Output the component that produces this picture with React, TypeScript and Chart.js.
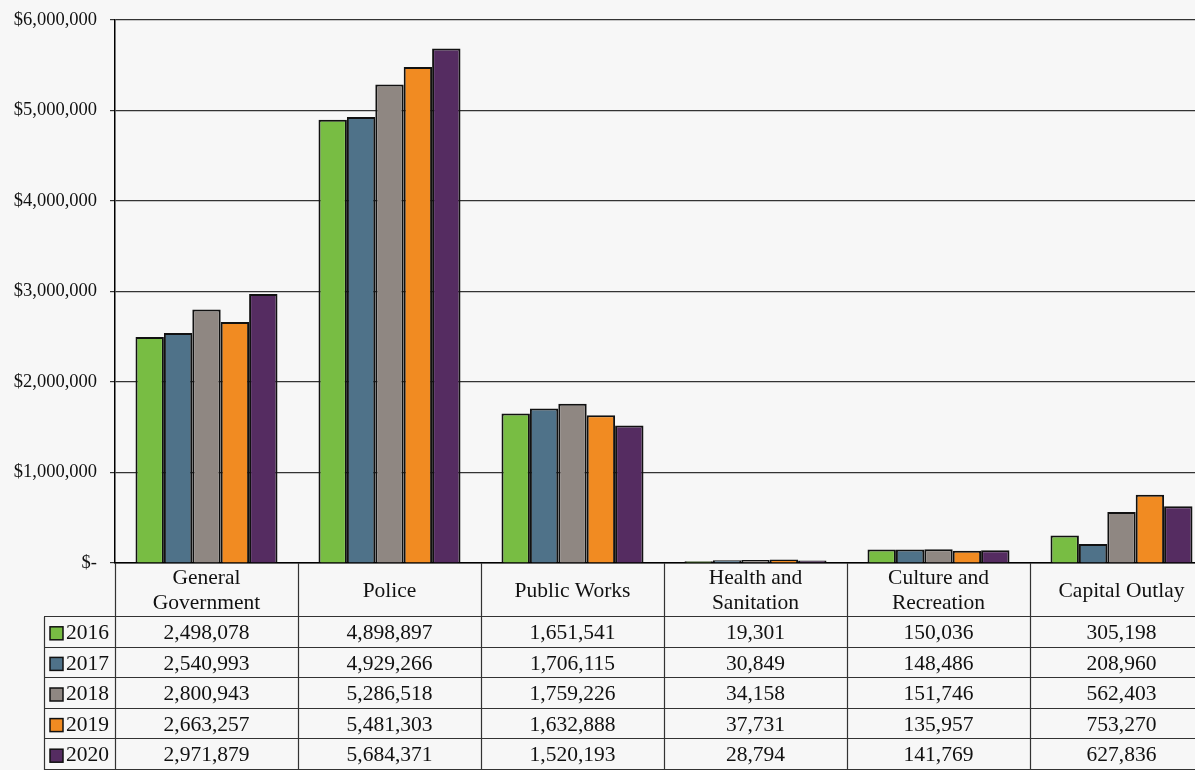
import React, { useEffect, useRef } from "react";
import { Chart, registerables } from "chart.js";

Chart.register(...registerables);

const categories: string[][] = [
  ["General", "Government"],
  ["Police"],
  ["Public Works"],
  ["Health and", "Sanitation"],
  ["Culture and", "Recreation"],
  ["Capital Outlay"],
];
const years = ["2016", "2017", "2018", "2019", "2020"];
const colors = ["#78bd43", "#4f7289", "#8f8782", "#f18b22", "#552c61"];

const v2016 = [2498078, 4898897, 1651541, 19301, 150036, 305198];
const v2017 = [2540993, 4929266, 1706115, 30849, 148486, 208960];
const v2018 = [2800943, 5286518, 1759226, 34158, 151746, 562403];
const v2019 = [2663257, 5481303, 1632888, 37731, 135957, 753270];
const v2020 = [2971879, 5684371, 1520193, 28794, 141769, 627836];
const seriesValues = [v2016, v2017, v2018, v2019, v2020];

const yMin = 0;
const yMax = 6000000;
const yStep = 1000000;

const FONT = '"Liberation Serif", "Times New Roman", serif';
const TABLE_FONT_SIZE = 21.5;
const HEADER_H = 54;
const ROW_H = 30.6;
const TABLE_LEFT = 44;
const LINE_COLOR = "#333333";
const TEXT_COLOR = "#111111";

const fmt = (n: number) => n.toLocaleString("en-US");

const tablePlugin = {
  id: "dataTable",
  afterDraw(chart: any) {
    const { ctx, chartArea } = chart;
    const x = chart.scales.x;
    const n = categories.length;
    const catW = x.getPixelForValue(1) - x.getPixelForValue(0);
    const top = chartArea.bottom;
    const rowsTop = top + HEADER_H;
    const bottom = rowsTop + ROW_H * years.length;
    const left = chartArea.left;
    ctx.save();
    ctx.strokeStyle = LINE_COLOR;
    ctx.lineWidth = 1.2;
    ctx.beginPath();
    ctx.moveTo(TABLE_LEFT + 0.5, rowsTop);
    ctx.lineTo(TABLE_LEFT + 0.5, bottom);
    ctx.moveTo(Math.round(left) + 0.5, top);
    ctx.lineTo(Math.round(left) + 0.5, bottom);
    for (let i = 0; i < n; i++) {
      const bx = Math.round(x.getPixelForValue(i) + catW / 2) + 0.5;
      ctx.moveTo(bx, top);
      ctx.lineTo(bx, bottom);
    }
    for (let r = 0; r <= years.length; r++) {
      const yy = Math.round(rowsTop + r * ROW_H) - 0.5;
      ctx.moveTo(TABLE_LEFT, yy);
      ctx.lineTo(chartArea.right, yy);
    }
    ctx.stroke();

    ctx.fillStyle = TEXT_COLOR;
    ctx.font = `${TABLE_FONT_SIZE}px ${FONT}`;
    ctx.textBaseline = "middle";
    ctx.textAlign = "center";
    const hc = top + HEADER_H / 2 + 1;
    categories.forEach((lines, i) => {
      const cx = x.getPixelForValue(i);
      if (lines.length === 1) {
        ctx.fillText(lines[0], cx, hc);
      } else {
        ctx.fillText(lines[0], cx, hc - 12.5);
        ctx.fillText(lines[1], cx, hc + 12.5);
      }
    });
    years.forEach((yr, r) => {
      const cy = rowsTop + r * ROW_H + ROW_H / 2 + 1;
      seriesValues[r].forEach((v, i) => {
        ctx.textAlign = "center";
        ctx.fillText(fmt(v), x.getPixelForValue(i), cy);
      });
      ctx.fillStyle = colors[r];
      ctx.fillRect(50, cy - 6.5, 13, 13);
      ctx.strokeStyle = "#111";
      ctx.lineWidth = 1.5;
      ctx.strokeRect(50, cy - 6.5, 13, 13);
      ctx.fillStyle = TEXT_COLOR;
      ctx.textAlign = "left";
      ctx.fillText(yr, 66, cy);
    });
    ctx.restore();
  },
};

export default function App() {
  const ref = useRef<HTMLCanvasElement | null>(null);
  useEffect(() => {
    if (!ref.current) return;
    const chart = new Chart(ref.current, {
      type: "bar",
      data: {
        labels: categories.map((c) => c.join(" ")),
        datasets: years.map((yr, i) => ({
          label: yr,
          data: seriesValues[i],
          backgroundColor: colors[i],
          borderColor: "#111111",
          borderWidth: 2,
          categoryPercentage: 0.776,
          barPercentage: 1.0,
        })),
      },
      options: {
        responsive: false,
        animation: false,
        layout: { padding: { top: 20, right: 3, bottom: 0, left: 0 } },
        plugins: {
          legend: { display: false },
          tooltip: { enabled: false },
        },
        scales: {
          x: {
            ticks: { display: false },
            grid: { display: true, drawOnChartArea: false, drawTicks: false },
            border: { display: true, color: "#000", width: 1.5 },
            afterFit: (scale: any) => {
              scale.height = 207;
              scale.paddingLeft = 0;
              scale.paddingRight = 0;
            },
          },
          y: {
            min: yMin,
            max: yMax,
            ticks: {
              stepSize: yStep,
              padding: 13,
              color: TEXT_COLOR,
              font: { family: FONT, size: 18.5 },
              callback: (v: any) => (Number(v) === 0 ? "$-" : "$" + fmt(Number(v))),
            },
            grid: { color: "#333333", lineWidth: 1.2, tickLength: 5 },
            border: { display: true, color: "#000", width: 1.5 },
            afterFit: (scale: any) => {
              scale.width = 115;
              scale.paddingTop = 0;
              scale.paddingBottom = 0;
            },
          },
        },
      },
      plugins: [tablePlugin],
    });
    return () => chart.destroy();
  }, []);
  return (
    <div
      style={{
        position: "fixed",
        left: 0,
        top: 0,
        width: 1195,
        height: 770,
        overflow: "hidden",
        background: "#f7f7f7",
      }}
    >
      <canvas ref={ref} width={1216} height={770} style={{ display: "block" }} />
    </div>
  );
}
